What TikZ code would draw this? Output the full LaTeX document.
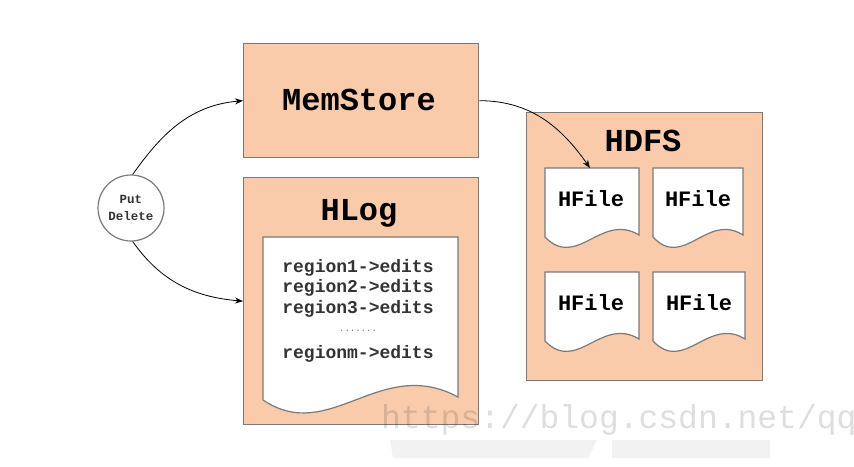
\documentclass[tikz,border=0pt]{standalone}
\usepackage{fontspec}
\setmonofont{Liberation Mono}
\usetikzlibrary{arrows.meta}
\definecolor{peach}{HTML}{F9CBAA}
\definecolor{edge}{HTML}{7A7A7A}
\begin{document}
\begin{tikzpicture}[x=1pt,y=-1pt,
  box/.style={draw=edge, line width=1.4pt, fill=peach, anchor=north west, inner sep=0pt},
  docln/.style={draw=edge, line width=1.2pt, fill=white},
  big/.style={font=\fontsize{32}{32}\selectfont\ttfamily\bfseries},
  hf/.style={font=\fontsize{22}{22}\selectfont\ttfamily\bfseries},
  reg/.style={font=\fontsize{18}{18}\selectfont\ttfamily\bfseries, text=black!80},
  arr/.style={line width=0.8pt, -{Stealth[length=8pt,width=6pt]}}]
\useasboundingbox (0,0) rectangle (854,466);
\clip (0,0) rectangle (854,466);
\fill[white] (0,0) rectangle (854,466);

% main boxes
\node[box, minimum width=235pt, minimum height=114pt] (mem) at (243,43) {};
\node[big] (memt) at (359,100) {MemStore};
\node[box, minimum width=235pt, minimum height=247pt] (hlog) at (243,177) {};
\node[big] (hlogt) at (359,213) {HLog};
\node[box, minimum width=236pt, minimum height=268pt] (hdfs) at (526,112) {};
\node[big] (hdfst) at (643,141) {HDFS};

% HLog document
\draw[docln] (263,237) -- (458,237) -- (458,397)
  .. controls (380,355) and (330,445) .. (263,400) -- cycle;
\node[reg] (r1) at (358,268) {region1->edits};
\node[reg] (r2) at (358,288) {region2->edits};
\node[reg] (r3) at (358,309) {region3->edits};
\node[font=\fontsize{9}{9}\selectfont\ttfamily, text=black!55] (rd) at (358,331) {.......};
\node[reg] (rm) at (358,354) {regionm->edits};

% HFile documents
\newcommand\hfdoc[4]{%
  \draw[docln] (#1,#2) -- (#3,#2) -- (#3,#4)
    .. controls ({#3-0.4*(#3-#1)},{#4-23}) and ({#1+0.34*(#3-#1)},{#4+35}) .. (#1,{#4+2}) -- cycle;}
\hfdoc{545}{168}{639}{235}
\hfdoc{653}{168}{743}{235}
\hfdoc{545}{272}{639}{339}
\hfdoc{653}{272}{745}{339}
\node[hf] (f1) at (591,199) {HFile};
\node[hf] (f2) at (698,199) {HFile};
\node[hf] (f3) at (591,303) {HFile};
\node[hf] (f4) at (699,303) {HFile};
\coordinate (f1top) at (590,168);

% Put / Delete
\node[circle, draw=edge, line width=1.2pt, fill=white, minimum size=66pt, inner sep=0pt,
  align=center, font=\fontsize{12.5}{17}\selectfont\ttfamily\bfseries, text=black!80] (pd) at (131,208) {Put\\Delete};

% connectors
\draw[arr] (pd.87) to[out=55, in=185] (mem.west);
\draw[arr] (pd.273) to[out=-55, in=175] (hlog.west);
\draw[arr] (mem.east) to[out=0, in=125] (f1top);

% watermark
\fill[black!5] (390,440) -- (597,440) -- (588,458) -- (393,458) -- cycle;
\fill[black!5] (612,440) rectangle (770,458);
\node[anchor=base west, inner sep=0pt, font=\fontsize{33}{33}\selectfont\ttfamily, text=black, text opacity=0.13] (wm) at (381,428) {https://blog.csdn.net/qq};
\end{tikzpicture}
\end{document}
